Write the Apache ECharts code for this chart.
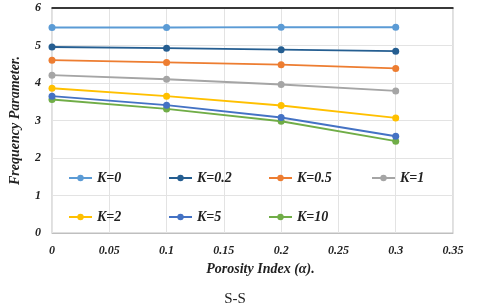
<!DOCTYPE html>
<html><head><meta charset="utf-8">
<script src="https://cdn.jsdelivr.net/npm/echarts@6/dist/echarts.min.js"></script>
<style>html,body{margin:0;padding:0;background:#fff}#c{width:480px;height:306px}</style>
</head><body><div id="c"></div>
<script>
var xValues = [0, 0.1, 0.2, 0.3];
var seriesNames = ['K=0', 'K=0.2', 'K=0.5', 'K=1', 'K=2', 'K=5', 'K=10'];
var k0 = [5.48, 5.48, 5.49, 5.49];
var k02 = [4.96, 4.93, 4.89, 4.85];
var k05 = [4.61, 4.55, 4.49, 4.39];
var k1 = [4.21, 4.10, 3.96, 3.79];
var k2 = [3.86, 3.65, 3.40, 3.07];
var k5 = [3.65, 3.41, 3.08, 2.58];
var k10 = [3.56, 3.31, 2.98, 2.45];
var colors = ['#5B9BD5', '#255E91', '#ED7D31', '#A5A5A5', '#FFC000', '#4472C4', '#70AD47'];
var allData = [k0, k02, k05, k1, k2, k5, k10];

var font = 'Liberation Serif';
var chart = echarts.init(document.getElementById('c'));
var series = allData.map(function (d, i) {
  return {
    name: seriesNames[i], type: 'line', xAxisIndex: 0,
    data: d.map(function (v, j) { return [xValues[j], v]; }),
    symbol: 'circle', symbolSize: 7,
    lineStyle: { width: 2, color: colors[i] },
    itemStyle: { color: colors[i] },
    z: 10 - i
  };
});
var legendLeft = [63, 163, 263, 366, 63, 163, 263];
var legendTop = [166, 166, 166, 166, 205, 205, 205];
var legends = seriesNames.map(function (n, i) {
  return {
    left: legendLeft[i], top: legendTop[i], itemWidth: 23, itemHeight: 8, itemGap: 0,
    data: [n],
    textStyle: { fontFamily: font, fontWeight: 'bold', fontStyle: 'italic', fontSize: 14, color: '#222' }
  };
});
chart.setOption({
  animation: false,
  grid: { left: 48, right: 27, top: 8, bottom: 73, show: true, borderColor: '#bfbfbf', borderWidth: 1 },
  title: { text: 'S-S', left: 230, top: 287, textAlign: 'center',
    textStyle: { fontFamily: font, fontWeight: 'normal', fontSize: 15, color: '#222' } },
  legend: legends,
  xAxis: [{
    type: 'value', min: 0, max: 0.35, interval: 0.05,
    axisLine: { show: true, lineStyle: { color: '#bfbfbf' } },
    axisTick: { show: false },
    splitLine: { show: true, lineStyle: { color: '#e3e3e3' } },
    axisLabel: { fontFamily: font, fontWeight: 'bold', fontStyle: 'italic', fontSize: 12, color: '#222', margin: 12 },
    name: 'Porosity Index (\u03b1).', nameLocation: 'middle', nameGap: 29,
    nameTextStyle: { fontFamily: font, fontWeight: 'bold', fontStyle: 'italic', fontSize: 14, color: '#222', padding: [0, 0, 0, 16] }
  }, {
    type: 'value', position: 'top', min: 0, max: 0.35,
    axisLine: { show: true, lineStyle: { color: '#000', width: 1.5 } },
    axisTick: { show: false }, axisLabel: { show: false }, splitLine: { show: false }
  }],
  yAxis: {
    type: 'value', min: 0, max: 6, interval: 1,
    axisLine: { show: false }, axisTick: { show: false },
    splitLine: { show: true, lineStyle: { color: '#e3e3e3' } },
    axisLabel: { fontFamily: font, fontWeight: 'bold', fontStyle: 'italic', fontSize: 12, color: '#222', margin: 11 },
    name: 'Frequency Parameter.', nameLocation: 'middle', nameGap: 30,
    nameTextStyle: { fontFamily: font, fontWeight: 'bold', fontStyle: 'italic', fontSize: 14, color: '#222' }
  },
  series: series
});
</script></body></html>
